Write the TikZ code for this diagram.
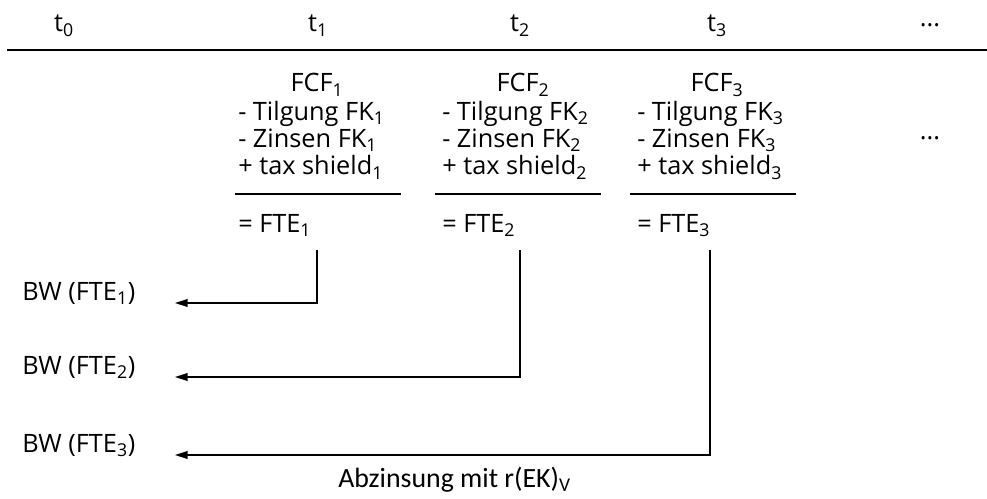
\documentclass[tikz,border=0pt]{standalone}
\usepackage{fontspec}
\setmainfont{Open Sans}
\newfontfamily\carlito{Carlito}
\usetikzlibrary{arrows.meta}

\begin{document}
\begin{tikzpicture}[x=0.025cm,y=-0.025cm,
  every node/.style={inner sep=0pt,font=\fontsize{18}{21}\selectfont},
  flow/.style={line width=1.1pt,-{Triangle[length=9pt,width=5.5pt]}}]
\useasboundingbox (0,0) rectangle (987,499);
% time axis
\draw[line width=2pt] (7,50) -- (987,50);
\foreach \i/\x in {0/64,1/318,2/520,3/717} {
  \node[anchor=base] (t\i) at (\x,32) {t\textsubscript{\i}};
}
\node[anchor=base] (dots1) at (930,27) {...};
\node[anchor=base] (dots2) at (930,140) {...};
% cash flow columns
\foreach \i/\l/\c/\r/\v/\y in {1/238/317/235/317/303,2/442/523/435/520/377,3/637/717/630/710/455} {
  \node[anchor=base] (fcf\i) at (\c,92) {FCF\textsubscript{\i}};
  \node[anchor=base west] (tilg\i) at (\l,120) {- Tilgung FK\textsubscript{\i}};
  \node[anchor=base west] (zins\i) at (\l,147) {- Zinsen FK\textsubscript{\i}};
  \node[anchor=base west] (tax\i) at (\l,175) {+ tax shield\textsubscript{\i}};
  \draw[line width=0.9pt] (\r,194) -- ++(166,0);
  \node[anchor=base west] (fte\i) at (\l,232) {= FTE\textsubscript{\i}};
  % discounting
  \node[anchor=base west] (bw\i) at (22,\y-3) {BW (FTE\textsubscript{\i})};
  \coordinate (s\i) at (\v,250);
  \coordinate (e\i) at (175,\y);
  \draw[flow] (s\i) |- (e\i);
}
\node[anchor=base west,font=\carlito\fontsize{19.8}{23}\selectfont] (abz) at (338,487) {Abzinsung mit r(EK)\textsubscript{V}};
\end{tikzpicture}
\end{document}
